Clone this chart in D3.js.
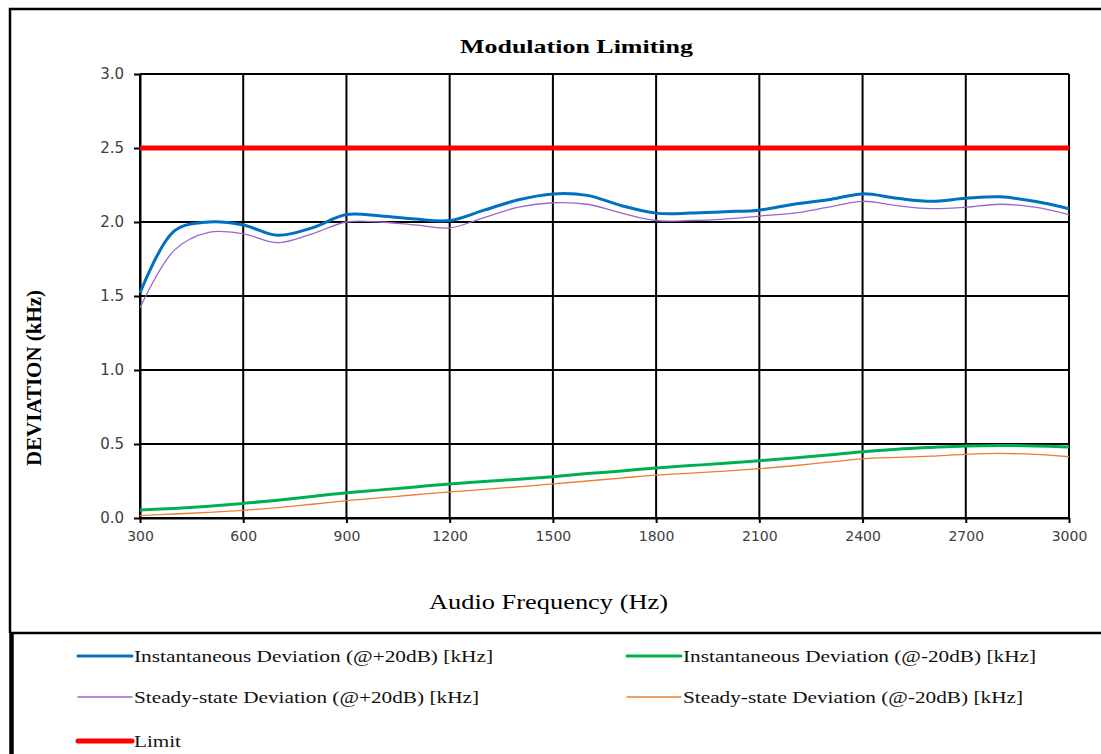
<!DOCTYPE html>
<html><head><meta charset="utf-8">
<script src="https://cdn.jsdelivr.net/npm/d3@7"></script>
<style>body{margin:0;background:#fff}svg{display:block}</style>
</head><body>
<script>
const freqs = [300,400,500,600,700,800,900,1000,1100,1200,1300,1400,1500,1600,1700,1800,1900,2000,2100,2200,2300,2400,2500,2600,2700,2800,2900,3000];
const instPlus = [1.52,1.94,2.00,1.98,1.91,1.96,2.05,2.04,2.02,2.01,2.08,2.15,2.19,2.18,2.11,2.06,2.06,2.07,2.08,2.12,2.15,2.19,2.16,2.14,2.16,2.17,2.14,2.09];
const instMinus = [0.054,0.065,0.08,0.099,0.12,0.145,0.171,0.19,0.21,0.23,0.246,0.262,0.279,0.30,0.318,0.338,0.354,0.37,0.387,0.405,0.425,0.448,0.465,0.477,0.487,0.49,0.487,0.48];
const steadyPlus = [1.42,1.81,1.93,1.92,1.86,1.92,2.00,2.00,1.98,1.96,2.03,2.10,2.13,2.12,2.06,2.01,2.01,2.02,2.04,2.06,2.10,2.14,2.11,2.09,2.10,2.12,2.10,2.05];
const steadyMinus = [0.016,0.027,0.038,0.052,0.07,0.093,0.117,0.137,0.157,0.176,0.193,0.211,0.23,0.25,0.27,0.29,0.303,0.317,0.333,0.353,0.377,0.40,0.41,0.418,0.43,0.436,0.43,0.414];
const limit = freqs.map(() => 2.5);
const xTicks = [300,600,900,1200,1500,1800,2100,2400,2700,3000];
const yTicks = [0,0.5,1,1.5,2,2.5,3];
const seriesNames = ["Instantaneous Deviation (@+20dB) [kHz]","Instantaneous Deviation (@-20dB) [kHz]","Steady-state Deviation (@+20dB) [kHz]","Steady-state Deviation (@-20dB) [kHz]","Limit"];

const W = 1101, H = 754;
const svg = d3.select("body").append("svg").attr("width", W).attr("height", H);
const SERIF = "Liberation Serif, Times New Roman, serif";

// outer frame
svg.append("path").attr("d", "M10,633 V9 H1102").attr("fill","none").attr("stroke","#000").attr("stroke-width",2.5);
// legend frame
svg.append("line").attr("x1",10).attr("x2",1102).attr("y1",633).attr("y2",633).attr("stroke","#000").attr("stroke-width",2.5);
svg.append("line").attr("x1",11.5).attr("x2",11.5).attr("y1",633).attr("y2",760).attr("stroke","#000").attr("stroke-width",4.5);

const x = d3.scaleLinear().domain([300,3000]).range([140,1069]);
const y = d3.scaleLinear().domain([0,3]).range([518,74]);

// grid
const g = svg.append("g");
g.selectAll(".vg").data(xTicks).join("line").attr("x1",d=>x(d)).attr("x2",d=>x(d)).attr("y1",y(3)).attr("y2",y(0)).attr("stroke","#000").attr("stroke-width",2);
g.selectAll(".hg").data(yTicks).join("line").attr("x1",x(300)).attr("x2",x(3000)).attr("y1",d=>y(d)).attr("y2",d=>y(d)).attr("stroke","#000").attr("stroke-width",2);

// axes
const ax = svg.append("g").attr("transform",`translate(0,${y(0)})`).call(d3.axisBottom(x).tickValues(xTicks).tickSize(5).tickSizeOuter(0).tickFormat(d3.format("d")));
const ay = svg.append("g").attr("transform",`translate(${x(300)},0)`).call(d3.axisLeft(y).tickValues(yTicks).tickSize(6).tickPadding(10).tickSizeOuter(0).tickFormat(d3.format(".1f")));
[ax,ay].forEach(a=>{
  a.select(".domain").attr("stroke","#000").attr("stroke-width",2);
  a.selectAll(".tick line").attr("stroke","#000").attr("stroke-width",2);
  a.selectAll(".tick text").attr("fill","#404040").attr("font-family","DejaVu Sans, sans-serif").attr("font-size",14);
});
ax.selectAll(".tick text").attr("dy","1.05em");
ay.selectAll(".tick text").attr("font-size",15);

// lines
const line = d3.line().x((d,i)=>x(freqs[i])).y(d=>y(d)).curve(d3.curveCatmullRom.alpha(0.5));
const series = [
  {v:limit, c:"#FF0000", w:5},
  {v:steadyMinus, c:"#ED7D31", w:1.3},
  {v:instMinus, c:"#00B050", w:3},
  {v:steadyPlus, c:"#9966CC", w:1.3},
  {v:instPlus, c:"#0070C0", w:3},
];
series.forEach(s=>{
  svg.append("path").attr("d", line(s.v)).attr("fill","none").attr("stroke",s.c).attr("stroke-width",s.w).attr("stroke-linejoin","round");
});

// titles
svg.append("text").attr("x",460).attr("y",53).attr("textLength",233).attr("lengthAdjust","spacingAndGlyphs").attr("font-family",SERIF).attr("font-weight","bold").attr("font-size",19).text("Modulation Limiting");
svg.append("text").attr("transform","translate(41,466) rotate(-90)").attr("textLength",176).attr("lengthAdjust","spacingAndGlyphs").attr("font-family",SERIF).attr("font-weight","bold").attr("font-size",20).text("DEVIATION (kHz)");
svg.append("text").attr("x",429).attr("y",609).attr("textLength",239).attr("lengthAdjust","spacingAndGlyphs").attr("font-family",SERIF).attr("font-size",21).text("Audio Frequency (Hz)");

// legend
const leg = [
  {n:seriesNames[0], c:"#0070C0", w:3, x:78, y:656, len:359},
  {n:seriesNames[1], c:"#00B050", w:3, x:627, y:656, len:353},
  {n:seriesNames[2], c:"#9966CC", w:1.3, x:78, y:697, len:345},
  {n:seriesNames[3], c:"#ED7D31", w:1.3, x:627, y:697, len:340},
  {n:seriesNames[4], c:"#FF0000", w:5, x:78, y:741, len:47},
];
leg.forEach(l=>{
  svg.append("line").attr("x1",l.x).attr("x2",l.x+54).attr("y1",l.y).attr("y2",l.y).attr("stroke",l.c).attr("stroke-width",l.w).attr("stroke-linecap","round");
  svg.append("text").attr("x",l.x+56).attr("y",l.y+5.5).attr("textLength",l.len).attr("lengthAdjust","spacingAndGlyphs").attr("font-family",SERIF).attr("font-size",17).attr("fill","#111").text(l.n);
});
</script>
</body></html>
